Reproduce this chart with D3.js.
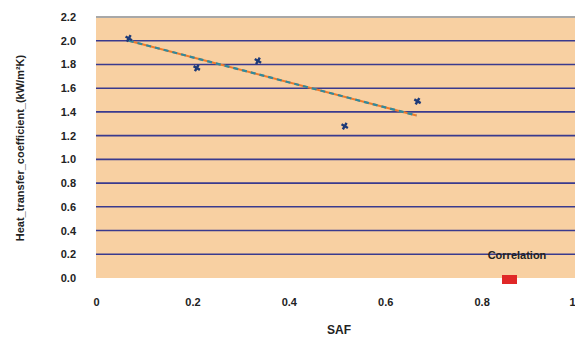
<!DOCTYPE html>
<html lang="en">
<head>
<meta charset="utf-8">
<title>SAF chart</title>
<script src="https://d3js.org/d3.v7.min.js"></script>
<style>
  body { margin: 0; background: #fff; }
  .tick text { font-family: Arial, "Liberation Sans", sans-serif; font-size: 11px; font-weight: bold; fill: #222; }
  .title { font-family: Arial, "Liberation Sans", sans-serif; font-size: 11px; font-weight: bold; fill: #222; }
</style>
</head>
<body>
<script>
// measured points
const safValues = [0.068, 0.209, 0.336, 0.516, 0.667];
const yValues = [2.02, 1.77, 1.83, 1.28, 1.49];
// fitted line ends
const trendX = [0.068, 0.665];
const trendY = [2.0, 1.37];
const xTicks = [0, 0.2, 0.4, 0.6, 0.8, 1];
const yTicks = [0, 0.2, 0.4, 0.6, 0.8, 1.0, 1.2, 1.4, 1.6, 1.8, 2.0, 2.2];
const legendLabel = "Correlation";

const width = 575, height = 338;
const plotLeft = 96, plotRight = 578, plotTop = 17, plotBottom = 278;

const svg = d3.select("body").append("svg")
  .attr("width", width).attr("height", height);

const x = d3.scaleLinear().domain([0, 1]).range([plotLeft, plotRight]);
const y = d3.scaleLinear().domain([0, 2.2]).range([plotBottom, plotTop]);

// plot background
svg.append("rect")
  .attr("x", plotLeft).attr("y", plotTop)
  .attr("width", plotRight - plotLeft).attr("height", plotBottom - plotTop)
  .attr("fill", "#f8d0a2");

// grid lines
svg.selectAll("line.grid")
  .data(yTicks.filter(d => d > 0 && d < 2.2))
  .enter().append("line")
  .attr("class", "grid")
  .attr("x1", plotLeft).attr("x2", plotRight)
  .attr("y1", d => y(d)).attr("y2", d => y(d))
  .attr("stroke", "#3a3a8e").attr("stroke-width", 1.6);

svg.append("line")
  .attr("x1", plotLeft).attr("x2", plotRight)
  .attr("y1", y(2.2)).attr("y2", y(2.2))
  .attr("stroke", "#a8a8a8").attr("stroke-width", 2);

// axes
const yAxis = svg.append("g")
  .attr("transform", "translate(" + (plotLeft - 17) + ",0)")
  .call(d3.axisLeft(y).tickValues(yTicks).tickSize(0).tickFormat(d3.format(".1f")));
yAxis.select(".domain").remove();

const xAxis = svg.append("g")
  .attr("transform", "translate(0," + (plotBottom + 16) + ")")
  .call(d3.axisBottom(x).tickValues(xTicks).tickSize(0).tickFormat(d => d === 0 || d === 1 ? d : d3.format(".1f")(d)));
xAxis.select(".domain").remove();
xAxis.selectAll("text").attr("dy", "0.8em");
// last label sits at the window edge, keep it inside
xAxis.selectAll("text").filter(d => d === 1).attr("text-anchor", "end").attr("dx", -3);

// trend line
const line = d3.line().x(d => x(d[0])).y(d => y(d[1]));
const trend = d3.zip(trendX, trendY);
svg.append("path").datum(trend).attr("d", line)
  .attr("fill", "none").attr("stroke", "#f07a2a").attr("stroke-width", 2);
svg.append("path").datum(trend).attr("d", line)
  .attr("fill", "none").attr("stroke", "#2f8a9e").attr("stroke-width", 2.2)
  .attr("stroke-dasharray", "5,4");

// points
svg.selectAll("path.pt")
  .data(d3.zip(safValues, yValues))
  .enter().append("path")
  .attr("class", "pt")
  .attr("d", d3.symbol().type(d3.symbolCross).size(30))
  .attr("transform", d => "translate(" + x(d[0]) + "," + y(d[1]) + ") rotate(30)")
  .attr("fill", "#1d3a78");

// legend
svg.append("text").attr("class", "title")
  .attr("x", 517).attr("y", 259).attr("text-anchor", "middle")
  .text(legendLabel);
svg.append("rect")
  .attr("x", 502).attr("y", 275).attr("width", 15).attr("height", 9)
  .attr("fill", "#e02828");

// axis titles
svg.append("text").attr("class", "title")
  .attr("x", (plotLeft + plotRight) / 2 + 2).attr("y", 334).attr("text-anchor", "middle")
  .style("font-size", "12px")
  .text("SAF");
svg.append("text").attr("class", "title")
  .attr("transform", "translate(24," + 148 + ") rotate(-90)")
  .attr("text-anchor", "middle")
  .text("Heat_transfer_coefficient_(kW/m²K)");
</script>
</body>
</html>
